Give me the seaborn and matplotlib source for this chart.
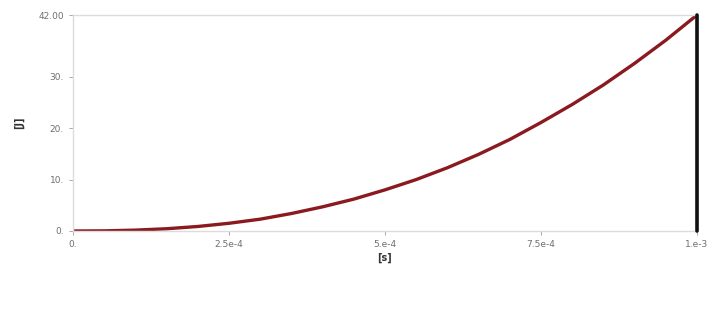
import numpy as np
import pandas as pd
import matplotlib
matplotlib.use("Agg")
import matplotlib.pyplot as plt
import seaborn as sns

# data
time_s = [0.0, 0.05e-3, 0.10e-3, 0.15e-3, 0.20e-3, 0.25e-3, 0.30e-3, 0.35e-3, 0.40e-3,
          0.45e-3, 0.50e-3, 0.55e-3, 0.60e-3, 0.65e-3, 0.70e-3, 0.75e-3, 0.80e-3,
          0.85e-3, 0.90e-3, 0.95e-3, 1.00e-3]
energy_j = [0.0, 0.03, 0.17, 0.44, 0.88, 1.5, 2.3, 3.4, 4.7, 6.2, 8.0, 10.0, 12.3,
            14.9, 17.8, 21.1, 24.6, 28.4, 32.6, 37.1, 42.0]
marker_x = [1.0e-3, 1.0e-3]
marker_y = [0.0, 42.0]

xticks = [0.0, 2.5e-4, 5.0e-4, 7.5e-4, 1.0e-3]
xtick_labels = ["0.", "2.5e-4", "5.e-4", "7.5e-4", "1.e-3"]
yticks = [0, 10, 20, 30, 42]
ytick_labels = ["0.", "10.", "20.", "30.", "42.00"]

sns.set_theme(style="white")
plt.rcParams['font.family'] = ['DejaVu Sans']

fig = plt.figure(figsize=(7.16, 3.25), dpi=100)
ax = fig.add_axes([73/716, 1 - 231/325, (697 - 73)/716, (231 - 15)/325])

df = pd.DataFrame({"t": time_s, "E": energy_j})
sns.lineplot(data=df, x="t", y="E", ax=ax, color="#8a1a1f", linewidth=2.4,
             estimator=None, sort=False)
dm = pd.DataFrame({"t": marker_x, "E": marker_y})
sns.lineplot(data=dm, x="t", y="E", ax=ax, color="#111111", linewidth=2.6,
             estimator=None, sort=False, clip_on=False, zorder=5)

ax.set_xlim(0, 1.0e-3)
ax.set_ylim(0, 42)
ax.set_xticks(xticks)
ax.set_xticklabels(xtick_labels)
ax.set_yticks(yticks)
ax.set_yticklabels(ytick_labels)
ax.tick_params(axis="both", labelsize=6.5, colors="#9a9a9a", length=3, width=0.6,
               direction="out", bottom=True, left=True)
for t in ax.get_xticklabels() + ax.get_yticklabels():
    t.set_color("#6f6f6f")
for s in ax.spines.values():
    s.set_color("#dcdcdc")
    s.set_linewidth(1.0)

ax.set_xlabel("[s]", fontsize=7, color="#333333", fontweight="bold", labelpad=3)
ax.set_ylabel("[J]", fontsize=7, color="#333333", fontweight="bold", labelpad=10)

fig.savefig("out.png", dpi=100, facecolor="white")
